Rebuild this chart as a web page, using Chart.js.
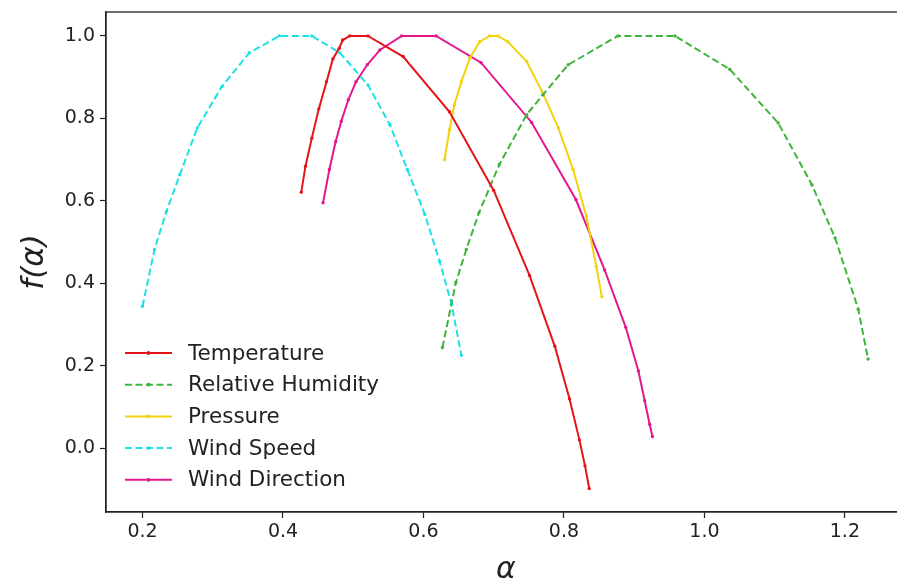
<!DOCTYPE html>
<html>
<head>
<meta charset="utf-8">
<script src="https://cdn.jsdelivr.net/npm/chart.js@4.4.0/dist/chart.umd.min.js"></script>
<style>
  html, body { margin: 0; padding: 0; background: #fff; overflow: hidden; }
  #wrap { width: 920px; height: 588px; }
</style>
</head>
<body>
<div id="wrap"><canvas id="spectrumChart" width="920" height="588"></canvas></div>
<script>
// multifractal spectra f(alpha) per variable
const seriesNames = ['Temperature', 'Relative Humidity', 'Pressure', 'Wind Speed', 'Wind Direction'];

const tempAlpha = [0.426, 0.432, 0.441, 0.451, 0.462, 0.471, 0.480, 0.485, 0.495, 0.521, 0.571, 0.637, 0.700, 0.751, 0.787, 0.808, 0.822, 0.830, 0.836];
const tempF     = [0.621, 0.684, 0.752, 0.823, 0.889, 0.944, 0.970, 0.990, 1.000, 1.000, 0.950, 0.816, 0.625, 0.419, 0.247, 0.119, 0.020, -0.043, -0.098];

const humAlpha = [0.627, 0.646, 0.661, 0.679, 0.708, 0.747, 0.770, 0.806, 0.877, 0.958, 1.036, 1.105, 1.153, 1.186, 1.219, 1.233];
const humF     = [0.244, 0.401, 0.482, 0.571, 0.688, 0.809, 0.857, 0.930, 1.000, 1.000, 0.919, 0.789, 0.639, 0.510, 0.337, 0.216];

const presAlpha = [0.630, 0.637, 0.644, 0.654, 0.666, 0.680, 0.694, 0.706, 0.720, 0.747, 0.770, 0.792, 0.813, 0.832, 0.846, 0.854];
const presF     = [0.700, 0.772, 0.833, 0.889, 0.946, 0.986, 1.000, 1.000, 0.986, 0.938, 0.861, 0.777, 0.676, 0.562, 0.441, 0.367];

const speedAlpha = [0.200, 0.217, 0.234, 0.253, 0.278, 0.313, 0.352, 0.395, 0.441, 0.481, 0.521, 0.552, 0.577, 0.602, 0.623, 0.640, 0.654];
const speedF     = [0.344, 0.482, 0.574, 0.663, 0.777, 0.877, 0.959, 1.000, 1.000, 0.959, 0.881, 0.785, 0.676, 0.567, 0.453, 0.349, 0.225];

const dirAlpha = [0.457, 0.466, 0.475, 0.483, 0.493, 0.504, 0.520, 0.538, 0.569, 0.618, 0.682, 0.754, 0.817, 0.858, 0.888, 0.906, 0.915, 0.922, 0.926];
const dirF     = [0.595, 0.676, 0.744, 0.793, 0.845, 0.889, 0.930, 0.966, 1.000, 1.000, 0.935, 0.790, 0.603, 0.432, 0.293, 0.187, 0.115, 0.058, 0.028];

const xTicks = [0.2, 0.4, 0.6, 0.8, 1.0, 1.2];
const yTicks = [0.0, 0.2, 0.4, 0.6, 0.8, 1.0];

const FONT = "'DejaVu Sans', 'Liberation Sans', sans-serif";

function pairs(xs, ys) {
    return xs.map((x, i) => ({ x: x, y: ys[i] }));
}

function makeSet(label, xs, ys, color, dashed) {
    return {
        label: label,
        data: pairs(xs, ys),
        borderColor: color,
        backgroundColor: color,
        pointBackgroundColor: color,
        pointBorderColor: color,
        borderWidth: 2,
        borderDash: dashed ? [7, 3.5] : [],
        pointRadius: 1.7,
        pointBorderWidth: 0,
        tension: 0,
        fill: false
    };
}

const datasets = [
    makeSet(seriesNames[0], tempAlpha, tempF, '#e3151b', false),
    makeSet(seriesNames[1], humAlpha, humF, '#3fb43c', true),
    makeSet(seriesNames[2], presAlpha, presF, '#f2d20c', false),
    makeSet(seriesNames[3], speedAlpha, speedF, '#1fe0e6', true),
    makeSet(seriesNames[4], dirAlpha, dirF, '#e2188c', false)
];

// frame around the plot area (matplotlib-style spines)
const framePlugin = {
    id: 'frame',
    afterDraw(chart) {
        const a = chart.chartArea;
        const ctx = chart.ctx;
        ctx.save();
        ctx.strokeStyle = '#222';
        ctx.lineWidth = 1.3;
        ctx.strokeRect(a.left, a.top, a.right - a.left, a.bottom - a.top);
        ctx.restore();
    }
};

// legend drawn inside the lower-left corner of the axes
const innerLegend = {
    id: 'innerLegend',
    afterDraw(chart) {
        const ctx = chart.ctx;
        const a = chart.chartArea;
        const x0 = a.left + 19, x1 = a.left + 66, tx = a.left + 82;
        let y = 353;
        ctx.save();
        chart.data.datasets.forEach(ds => {
            ctx.strokeStyle = ds.borderColor;
            ctx.lineWidth = ds.borderWidth;
            ctx.setLineDash(ds.borderDash);
            ctx.beginPath();
            ctx.moveTo(x0, y);
            ctx.lineTo(x1, y);
            ctx.stroke();
            ctx.setLineDash([]);
            ctx.fillStyle = ds.borderColor;
            ctx.beginPath();
            ctx.arc((x0 + x1) / 2, y, 1.9, 0, Math.PI * 2);
            ctx.fill();
            ctx.fillStyle = '#222';
            ctx.font = '21.5px ' + FONT;
            ctx.textBaseline = 'middle';
            ctx.textAlign = 'left';
            ctx.fillText(ds.label, tx, y + 1);
            y += 31.7;
        });
        ctx.restore();
    }
};

new Chart(document.getElementById('spectrumChart'), {
    type: 'line',
    data: { datasets: datasets },
    options: {
        responsive: false,
        animation: false,
        devicePixelRatio: 1,
        layout: { padding: { top: 12, right: 14, left: 0, bottom: 0 } },
        plugins: {
            legend: { display: false },
            tooltip: { enabled: false }
        },
        scales: {
            x: {
                type: 'linear',
                min: 0.148,
                max: 1.287,
                afterBuildTicks: s => { s.ticks = xTicks.map(v => ({ value: v })); },
                afterFit: s => { s.height = 76; s.paddingLeft = 0; s.paddingRight = 0; },
                grid: { drawOnChartArea: false, drawTicks: true, tickLength: 6, color: '#222', tickWidth: 1.2 },
                border: { display: true, color: '#222', width: 1.3 },
                ticks: {
                    color: '#222',
                    padding: 3,
                    maxRotation: 0,
                    font: { family: FONT, size: 19 },
                    callback: v => v.toFixed(1)
                },
                title: {
                    display: true,
                    text: 'α',
                    color: '#222',
                    padding: { top: 0, bottom: 0 },
                    font: { family: FONT, size: 30, style: 'italic' }
                }
            },
            y: {
                type: 'linear',
                min: -0.155,
                max: 1.058,
                afterBuildTicks: s => { s.ticks = yTicks.map(v => ({ value: v })); },
                afterFit: s => { s.width = 106; s.paddingTop = 0; s.paddingBottom = 0; },
                grid: { drawOnChartArea: false, drawTicks: true, tickLength: 6, color: '#222', tickWidth: 1.2 },
                border: { display: true, color: '#222', width: 1.3 },
                ticks: {
                    color: '#222',
                    padding: 5,
                    font: { family: FONT, size: 19 },
                    callback: v => v.toFixed(1)
                },
                title: {
                    display: true,
                    text: 'f(α)',
                    color: '#222',
                    padding: { top: 16, bottom: 0 },
                    font: { family: FONT, size: 31, style: 'italic' }
                }
            }
        }
    },
    plugins: [framePlugin, innerLegend]
});
</script>
</body>
</html>
